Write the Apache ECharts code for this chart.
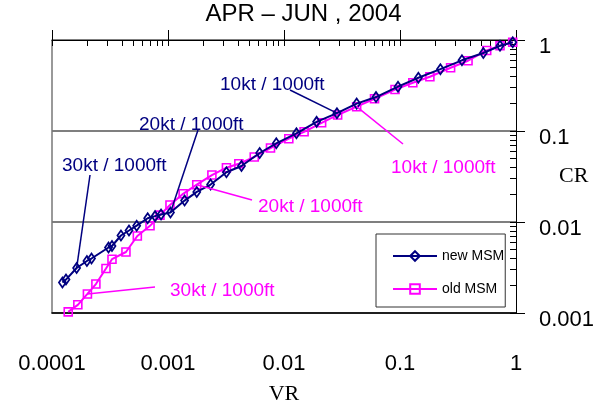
<!DOCTYPE html>
<html><head><meta charset="utf-8">
<script src="https://cdn.jsdelivr.net/npm/echarts@6/dist/echarts.min.js"></script>
<style>html,body{margin:0;padding:0;background:#fff}#c{width:607px;height:405px}</style>
</head><body><div id="c"></div>
<script>
// ---- data ----
const vrNew = [0.000123,0.000132,0.000163,0.000200,0.000219,0.000307,0.000329,0.000393,0.000461,0.000537,0.000668,0.000773,0.000871,0.00105,0.00139,0.00177,0.00233,0.00319,0.00430,0.00617,0.00858,0.0128,0.0191,0.0286,0.0423,0.0621,0.0961,0.144,0.223,0.342,0.523,0.728,0.937];
const crNew = [0.00216,0.00233,0.00312,0.00373,0.00397,0.00525,0.00545,0.00711,0.00806,0.00911,0.0110,0.0116,0.0121,0.0127,0.0172,0.0214,0.0258,0.0352,0.0412,0.0573,0.0732,0.0943,0.126,0.157,0.200,0.236,0.307,0.385,0.478,0.598,0.720,0.864,0.946];
const vrOld = [0.000138,0.000167,0.000202,0.000239,0.000292,0.000329,0.000434,0.000544,0.000700,0.000853,0.00104,0.00135,0.00177,0.00239,0.00319,0.00408,0.00554,0.00765,0.0110,0.0149,0.0211,0.0290,0.0423,0.0603,0.0906,0.129,0.181,0.273,0.386,0.559,0.728,0.937];
const crOld = [0.00103,0.00123,0.00162,0.00208,0.00308,0.00390,0.00468,0.00702,0.00908,0.0119,0.0154,0.0204,0.0257,0.0328,0.0395,0.0436,0.0518,0.0650,0.0823,0.0980,0.123,0.150,0.185,0.226,0.286,0.339,0.395,0.496,0.592,0.767,0.864,0.946];
const seriesNames = ['new MSM','old MSM'];
const xTicks = [0.0001,0.001,0.01,0.1,1];
const xTickLabels = ['0.0001','0.001','0.01','0.1','1'];
const yTicks = [0.001,0.01,0.1,1];
const yTickLabels = ['0.001','0.01','0.1','1'];
const titleText = 'APR \u2013 JUN , 2004';
// annotations: text, series, index of data point pointed at
const annotations = [
  {text:'10kt / 1000ft', s:0, i:23},
  {text:'20kt / 1000ft', s:0, i:13},
  {text:'30kt / 1000ft', s:0, i:2},
  {text:'10kt / 1000ft', s:1, i:22},
  {text:'20kt / 1000ft', s:1, i:12},
  {text:'30kt / 1000ft', s:1, i:2}
];
// layout of annotation texts (pixel anchors) - styling only
const annLayout = [
  {tx:220, ty:85, lx:290, ly:90},
  {tx:139, ty:125, lx:198, ly:130},
  {tx:62, ty:166, lx:90, ly:175},
  {tx:391, ty:168, lx:403, ly:144},
  {tx:258, ty:207, lx:252, ly:200},
  {tx:170, ty:291, lx:155, ly:287}
];
const colors = ['#000080','#ff00ff'];

function minorValues(lo, hi){
  const out=[];
  for(let e=Math.round(Math.log10(lo)); e<Math.round(Math.log10(hi)); e++){
    for(let k=1;k<10;k++) out.push(+(k*Math.pow(10,e)).toPrecision(3));
  }
  out.push(hi);
  return out;
}
const xMinor = minorValues(0.0001,1);
const yMinor = minorValues(0.001,1);
function lbl(ticks, labels){return function(v){for(let i=0;i<ticks.length;i++){if(Math.abs(Math.log10(v)-Math.log10(ticks[i]))<1e-6)return labels[i];}return '';};}

const chart = echarts.init(document.getElementById('c'), null, {renderer:'canvas'});
const FONT = 'Liberation Sans, Arial, sans-serif';
const SERIF = 'Liberation Serif, Times New Roman, serif';
const baseX = {type:'log', logBase:10, min:0.0001, max:1, gridIndex:0};
const baseY = {type:'log', logBase:10, min:0.001, max:1, gridIndex:0};

chart.setOption({
  animation:false,
  backgroundColor:'#fff',
  title:{text:titleText, left:'center', top:2, padding:0,
    textStyle:{fontFamily:FONT, fontSize:24, fontWeight:'normal', color:'#000'}},
  grid:{left:52, right:91, top:40, bottom:92, containLabel:false, outerBoundsMode:'none'},
  legend:{data:seriesNames, orient:'vertical', left:376, top:234,
    padding:[15,1,11,16], itemGap:19, itemWidth:44, itemHeight:12,
    backgroundColor:'#fff', borderColor:'#333', borderWidth:1,
    textStyle:{fontFamily:FONT, fontSize:14, color:'#000'}},
  xAxis:[
    Object.assign({}, baseX, {position:'bottom',
      axisLine:{show:true, lineStyle:{color:'#000', width:1.5}},
      axisTick:{show:false}, splitLine:{show:false},
      axisLabel:{show:true, customValues:xTicks, formatter:lbl(xTicks,xTickLabels), margin:40,
        fontFamily:FONT, fontSize:22, color:'#000'},
      name:'VR', nameLocation:'middle', nameGap:70, nameMoveOverlap:false,
      nameTextStyle:{fontFamily:SERIF, fontSize:22, color:'#000'}}),
    Object.assign({}, baseX, {position:'top',
      axisLine:{show:true, onZero:false, lineStyle:{color:'#000', width:1}},
      axisTick:{show:true, inside:true, length:6, customValues:xMinor, lineStyle:{color:'#000'}},
      axisLabel:{show:false}, splitLine:{show:false}}),
    Object.assign({}, baseX, {position:'top',
      axisLine:{show:false},
      axisTick:{show:true, inside:false, length:10, customValues:xTicks, lineStyle:{color:'#000'}},
      axisLabel:{show:false}, splitLine:{show:false}})
  ],
  yAxis:[
    Object.assign({}, baseY, {position:'right',
      axisLine:{show:true, onZero:false, lineStyle:{color:'#000', width:1}},
      axisTick:{show:true, inside:false, length:9, customValues:yTicks, lineStyle:{color:'#000'}},
      splitLine:{show:true, lineStyle:{color:'#555', width:1.5}},
      axisLabel:{show:true, customValues:yTicks, formatter:lbl(yTicks,yTickLabels), margin:23,
        fontFamily:FONT, fontSize:22, color:'#000', verticalAlign:'top', lineHeight:14},
      name:'CR', nameLocation:'middle', nameRotate:0, nameGap:43, nameMoveOverlap:false,
      nameTextStyle:{fontFamily:SERIF, fontSize:22, color:'#000', align:'left'}}),
    Object.assign({}, baseY, {position:'right',
      axisLine:{show:false},
      axisTick:{show:true, inside:true, length:6, customValues:yMinor, lineStyle:{color:'#000'}},
      axisLabel:{show:false}, splitLine:{show:false}}),
    Object.assign({}, baseY, {position:'left',
      axisLine:{show:true, onZero:false, lineStyle:{color:'#777', width:1.5}},
      axisTick:{show:false}, axisLabel:{show:false}, splitLine:{show:false}})
  ],
  series:[
    {name:seriesNames[1], type:'line', xAxisIndex:0, yAxisIndex:0, z:2,
      data:vrOld.map((v,i)=>[v,crOld[i]]),
      symbol:'rect', symbolSize:8, showAllSymbol:true,
      lineStyle:{color:colors[1], width:2},
      itemStyle:{color:'rgba(255,255,255,0)', borderColor:colors[1], borderWidth:1.6}},
    {name:seriesNames[0], type:'line', xAxisIndex:0, yAxisIndex:0, z:3,
      data:vrNew.map((v,i)=>[v,crNew[i]]),
      symbol:'diamond', symbolSize:[7,10], showAllSymbol:true,
      lineStyle:{color:colors[0], width:2},
      itemStyle:{color:'rgba(255,255,255,0)', borderColor:colors[0], borderWidth:1.8}}
  ]
});

// annotations: pointer lines from data points to text anchors
const gfx = [];
annotations.forEach((a,k)=>{
  const L = annLayout[k];
  const vx = a.s===0 ? vrNew[a.i] : vrOld[a.i];
  const vy = a.s===0 ? crNew[a.i] : crOld[a.i];
  const p = chart.convertToPixel({xAxisIndex:0, yAxisIndex:0}, [vx, vy]);
  const col = colors[a.s];
  gfx.push({type:'line', z:10, shape:{x1:L.lx, y1:L.ly, x2:p[0], y2:p[1]}, style:{stroke:col, lineWidth:1.5}});
  gfx.push({type:'text', z:11, x:L.tx, y:L.ty, style:{text:a.text, fill:col, font:'19px '+FONT, textVerticalAlign:'middle', verticalAlign:'middle'}});
});
chart.setOption({graphic:{elements:gfx}});
</script></body></html>
